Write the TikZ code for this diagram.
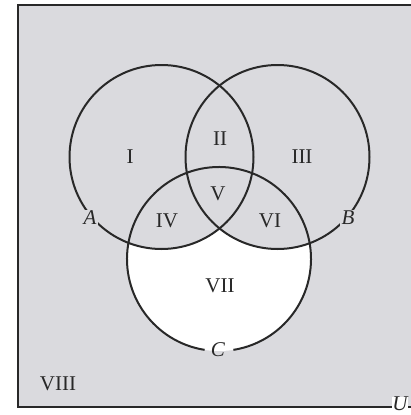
\documentclass[tikz,border=0pt]{standalone}
\usepackage{fontspec}
\setmainfont{Liberation Serif}
\definecolor{bggray}{RGB}{218,218,222}
\definecolor{ink}{RGB}{40,40,40}
\begin{document}
\begin{tikzpicture}[x=1pt,y=-1pt,
  circ/.style={draw=ink,line width=2pt},
  lab/.style={font=\fontsize{21}{21}\selectfont,text=ink,anchor=base,inner sep=0pt},
  setlab/.style={font=\fontsize{21}{21}\selectfont\itshape,text=ink,fill=bggray,inner sep=1.5pt}]
\useasboundingbox (0,0) rectangle (411,415);
\clip (0,0) rectangle (411,415);
% universe
\fill[bggray] (18,5) rectangle (440,407);
\draw[ink,line width=1.5pt] (440,5) -- (18,5) -- (18,407) -- (440,407);
% region VII white
\fill[white] (219,259) circle[radius=92];
\fill[bggray] (161.5,157) circle[radius=92];
\fill[bggray] (277.5,157) circle[radius=92];
% circles
\draw[circ] (161.5,157) circle[radius=92];
\draw[circ] (277.5,157) circle[radius=92];
\draw[circ] (219,259) ++(99:92) arc[start angle=99,end angle=441,radius=92];
% set labels
\node[setlab] (A) at (90,218) {A};
\node[setlab] (B) at (348,218) {B};
\node[font=\fontsize{21}{21}\selectfont\itshape,text=ink,inner sep=1pt] (C) at (218,350) {C};
\node[font=\fontsize{21}{21}\selectfont\itshape,text=ink,fill=white,inner sep=0.5pt] (U) at (400,404) {U};
% region labels
\node[lab] (r1) at (130,163) {I};
\node[lab] (r2) at (220,145) {II};
\node[lab] (r3) at (302,163) {III};
\node[lab] (r5) at (218,200) {V};
\node[lab] (r4) at (167,227) {IV};
\node[lab] (r6) at (270,227) {VI};
\node[lab] (r7) at (220,292) {VII};
\node[lab] (r8) at (58,390) {VIII};
\end{tikzpicture}
\end{document}
